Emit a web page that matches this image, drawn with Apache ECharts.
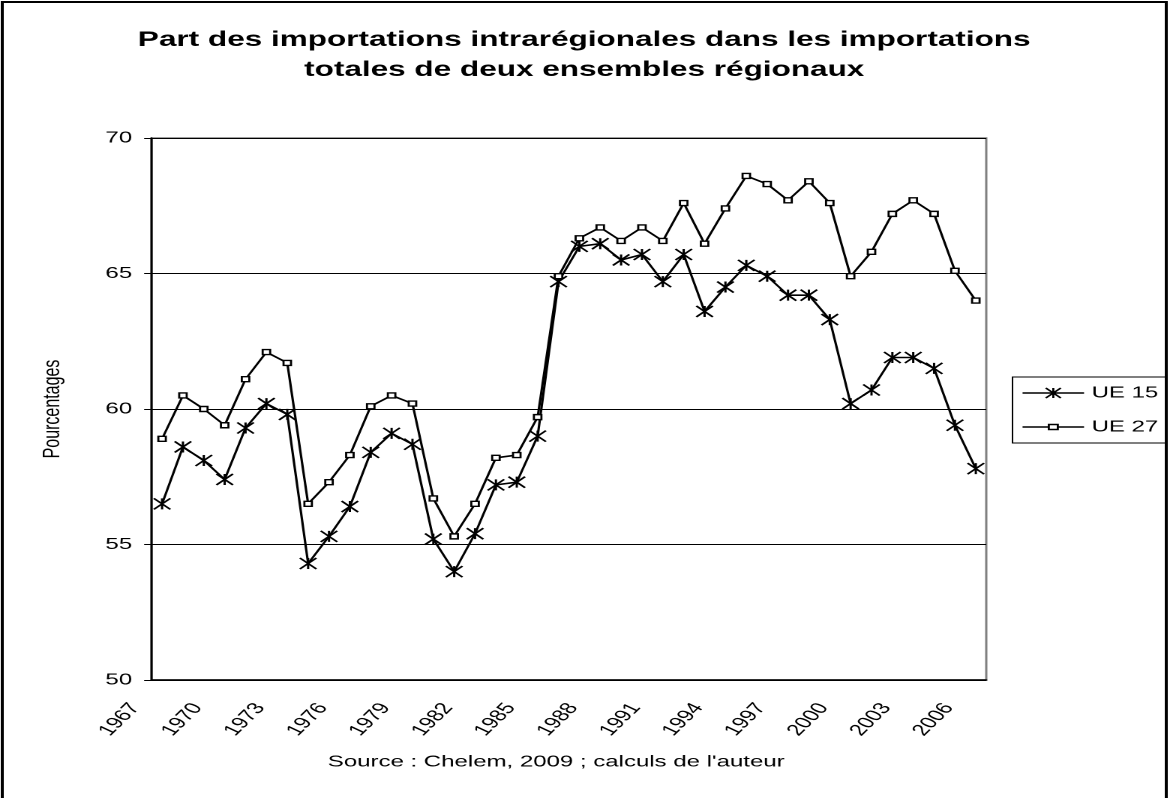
<!DOCTYPE html>
<html>
<head>
<meta charset="utf-8">
<script src="https://cdn.jsdelivr.net/npm/echarts@6/dist/echarts.min.js"></script>
<style>
  html, body { margin: 0; padding: 0; background: #fff; overflow: hidden; }
  /* the reference picture is stretched sideways about 1.5x, so the chart is drawn narrow and widened */
  #main { width: 779.33px; height: 798px; transform: scaleX(1.5); transform-origin: 0 0; }
</style>
</head>
<body>
<div id="main"></div>
<script>
var years = ['1967', '1968', '1969', '1970', '1971', '1972', '1973', '1974', '1975', '1976',
  '1977', '1978', '1979', '1980', '1981', '1982', '1983', '1984', '1985', '1986',
  '1987', '1988', '1989', '1990', '1991', '1992', '1993', '1994', '1995', '1996',
  '1997', '1998', '1999', '2000', '2001', '2002', '2003', '2004', '2005', '2006'];
var ue15 = [56.5, 58.6, 58.1, 57.4, 59.3, 60.2, 59.8, 54.3, 55.3, 56.4,
  58.4, 59.1, 58.7, 55.2, 54.0, 55.4, 57.2, 57.3, 59.0, 64.7,
  66.0, 66.1, 65.5, 65.7, 64.7, 65.7, 63.6, 64.5, 65.3, 64.9,
  64.2, 64.2, 63.3, 60.2, 60.7, 61.9, 61.9, 61.5, 59.4, 57.8];
var ue27 = [58.9, 60.5, 60.0, 59.4, 61.1, 62.1, 61.7, 56.5, 57.3, 58.3,
  60.1, 60.5, 60.2, 56.7, 55.3, 56.5, 58.2, 58.3, 59.7, 64.9,
  66.3, 66.7, 66.2, 66.7, 66.2, 67.6, 66.1, 67.4, 68.6, 68.3,
  67.7, 68.4, 67.6, 64.9, 65.8, 67.2, 67.7, 67.2, 65.1, 64.0];
var yMin = 50, yMax = 70, yStep = 5;

var font = 'Liberation Sans, Arial, sans-serif';
// asterisk marker like Excel's star
var star = 'path://M5,0L5,10M0,0L10,10M0,10L10,0';
// legend icons: line with the marker in the middle
var starIcon = 'path://M0,5H41M20.5,0V10M15.5,0L25.5,10M15.5,10L25.5,0';
var rectIcon = 'path://M0,2.5H17.5M23.5,2.5H41M17.5,0h6v5h-6z';

var myChart = echarts.init(document.getElementById('main'), null, {devicePixelRatio: 2});
var option = {
  animation: false,
  backgroundColor: '#fff',
  textStyle: {fontFamily: font, color: '#000'},
  title: {
    text: 'Part des importations intrarégionales dans les importations\ntotales de deux ensembles régionaux',
    left: 'center',
    top: 25,
    padding: 0,
    textStyle: {fontFamily: font, fontSize: 21, fontWeight: 'bold', lineHeight: 30, color: '#000'}
  },
  graphic: [{
    type: 'rect',
    shape: {x: 1.5, y: 2, width: 776, height: 820},
    style: {fill: 'none', stroke: '#000', lineWidth: 2},
    silent: true
  }],
  legend: {
    orient: 'vertical',
    left: 675,
    top: 377,
    itemWidth: 41,
    itemHeight: 14,
    itemGap: 18,
    padding: [8, 5, 8, 6],
    borderColor: '#000',
    borderWidth: 1,
    textStyle: {fontFamily: font, fontSize: 16, color: '#000'},
    data: [
      {name: 'UE 15', icon: starIcon, itemStyle: {color: '#000', borderColor: '#000', borderWidth: 1.4}},
      {name: 'UE 27', icon: rectIcon, itemStyle: {color: '#fff', borderColor: '#000', borderWidth: 1.4}}
    ]
  },
  grid: [
    {left: 101.1, right: 121.5, top: 138, bottom: 118, show: true, borderColor: '#808080', borderWidth: 1.5},
    // same size, moved left: only carries the year labels, which sit left of their points in the reference
    {left: 83.1, right: 139.5, top: 138, bottom: 118}
  ],
  xAxis: [
    {
      type: 'category',
      data: years,
      boundaryGap: true,
      name: "Source : Chelem, 2009 ; calculs de l'auteur",
      nameLocation: 'middle',
      nameGap: 74,
      nameTextStyle: {fontFamily: font, fontSize: 16, color: '#000', padding: [0, 17, 0, 0]},
      axisLine: {lineStyle: {color: '#000', width: 1.5}},
      axisTick: {interval: 0, length: 5, lineStyle: {color: '#000', width: 1}},
      axisLabel: {show: false},
      splitLine: {show: false}
    },
    {
      type: 'category',
      gridIndex: 1,
      data: years,
      boundaryGap: true,
      axisLine: {show: false},
      axisTick: {show: false},
      axisLabel: {interval: 2, rotate: 55, margin: 25, fontSize: 16, fontFamily: font, color: '#000'},
      splitLine: {show: false}
    }
  ],
  yAxis: [
    {
      type: 'value',
      min: yMin,
      max: yMax,
      interval: yStep,
      name: 'Pourcentages',
      nameLocation: 'middle',
      nameGap: 58,
      nameTextStyle: {fontFamily: font, fontSize: 16, color: '#000'},
      axisLine: {show: true, lineStyle: {color: '#000', width: 1.5}},
      axisTick: {show: true, length: 5, lineStyle: {color: '#000', width: 1}},
      axisLabel: {margin: 13, fontSize: 16, fontFamily: font, color: '#000'},
      splitLine: {lineStyle: {color: '#000', width: 1}}
    },
    {type: 'value', gridIndex: 1, min: yMin, max: yMax, interval: yStep, show: false}
  ],
  series: [
    {
      name: 'UE 15',
      type: 'line',
      data: ue15,
      symbol: star,
      symbolSize: 11,
      showAllSymbol: true,
      itemStyle: {color: '#000', borderColor: '#000', borderWidth: 1.5},
      lineStyle: {color: '#000', width: 1.6}
    },
    {
      name: 'UE 27',
      type: 'line',
      data: ue27,
      symbol: 'rect',
      symbolSize: 5,
      showAllSymbol: true,
      itemStyle: {color: '#fff', borderColor: '#000', borderWidth: 1.4},
      lineStyle: {color: '#000', width: 1.6}
    }
  ]
};
myChart.setOption(option);
</script>
</body>
</html>
